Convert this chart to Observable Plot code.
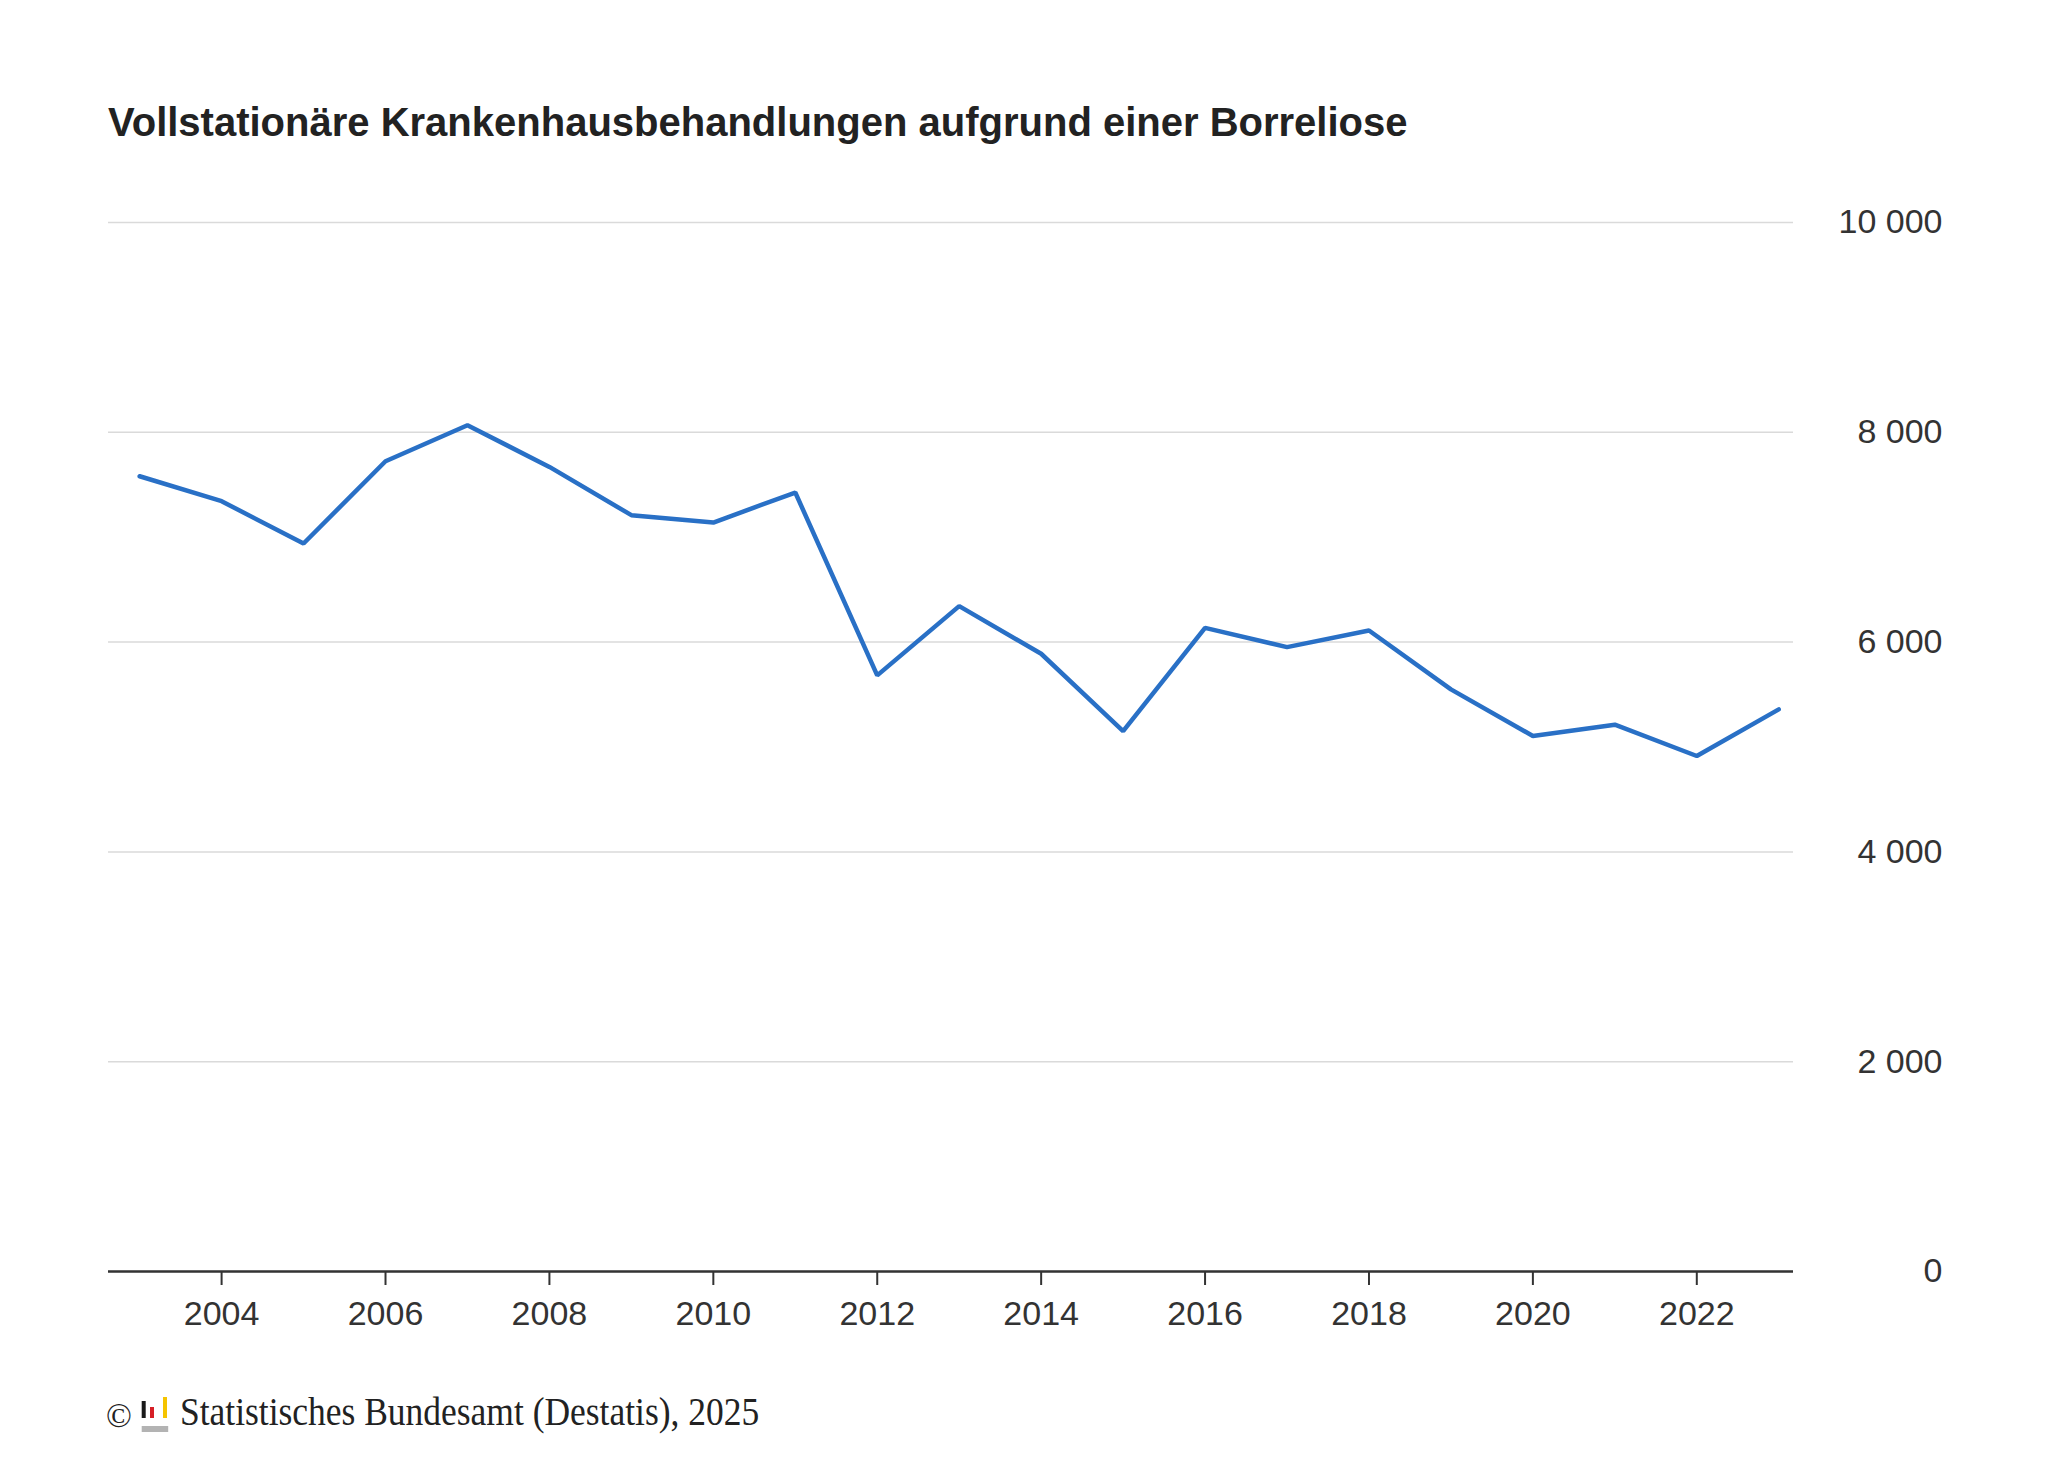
<!DOCTYPE html>
<html>
<head>
<meta charset="utf-8">
<script src="https://cdn.jsdelivr.net/npm/d3@7"></script>
<script src="https://cdn.jsdelivr.net/npm/@observablehq/plot@0.6"></script>
<style>
  html, body { margin: 0; padding: 0; background: #fff; }
  #page { position: relative; width: 2048px; height: 1467px; background: #fff; overflow: hidden; }
  #title { position: absolute; left: 108px; top: 102px; font-family: "Liberation Sans", Arial, sans-serif; font-weight: bold; font-size: 40px; line-height: 40px; color: #222; white-space: nowrap; }
  #chart { position: absolute; left: 0; top: 180px; }
  .foot { position: absolute; font-family: "Liberation Serif", "Times New Roman", serif; color: #222; white-space: nowrap; }
  #copy { left: 106px; top: 1399px; font-size: 34px; line-height: 34px; }
  #src { left: 180px; top: 1391px; font-size: 41px; line-height: 41px; transform: scaleX(0.865); transform-origin: 0 0; }
  #logo { position: absolute; left: 141px; top: 1395px; }
</style>
</head>
<body>
<div id="page">
  <div id="title"></div>
  <div id="chart"></div>
  <div class="foot" id="copy">©</div>
  <svg id="logo" width="28" height="40" viewBox="0 0 28 40">
    <rect x="0.7" y="6" width="4" height="17" fill="#1a1a1a"></rect>
    <rect x="9" y="12" width="4" height="11" fill="#d61f26"></rect>
    <rect x="22" y="2" width="4" height="21" fill="#f5c400"></rect>
    <rect x="0.7" y="31" width="26.5" height="6" fill="#b3b3b3"></rect>
  </svg>
  <div class="foot" id="src"></div>
</div>
<script>
const titleText = "Vollstationäre Krankenhausbehandlungen aufgrund einer Borreliose";
const sourceText = "Statistisches Bundesamt (Destatis), 2025";

const years = [2003, 2004, 2005, 2006, 2007, 2008, 2009, 2010, 2011, 2012, 2013,
               2014, 2015, 2016, 2017, 2018, 2019, 2020, 2021, 2022, 2023];
const cases = [7581, 7343, 6940, 7724, 8067, 7670, 7210, 7140, 7426, 5683, 6343,
               5889, 5152, 6136, 5952, 6111, 5549, 5105, 5213, 4914, 5359];
const xTicks = [2004, 2006, 2008, 2010, 2012, 2014, 2016, 2018, 2020, 2022];
const yTicks = [0, 2000, 4000, 6000, 8000, 10000];

document.getElementById("title").textContent = titleText;
document.getElementById("src").textContent = sourceText;

const data = years.map((y, i) => ({year: y, value: cases[i]}));
const fmtY = d => d3.format(",")(d).replace(/,/g, "\u00a0");

const chart = Plot.plot({
  width: 2048,
  height: 1160,
  marginLeft: 108,
  marginRight: 255,
  marginTop: 42,
  marginBottom: 69,
  x: {domain: [2002.62, 2023.18]},
  y: {domain: [0, 10000]},
  style: {fontFamily: "'Liberation Sans', Arial, sans-serif", fontSize: "34px", color: "#333", background: "white"},
  marks: [
    Plot.gridY(yTicks, {stroke: "#dadada", strokeOpacity: 1, strokeWidth: 1.5}),
    Plot.axisY(yTicks, {anchor: "right", tickSize: 0, tickPadding: 149, textAnchor: "end", tickFormat: fmtY, fill: "#333", label: null}),
    Plot.axisX(xTicks, {anchor: "bottom", tickSize: 14, tickPadding: 15, tickFormat: d => String(d), stroke: "#333", strokeWidth: 2, fill: "#333", label: null}),
    Plot.ruleY([0], {stroke: "#333", strokeWidth: 2.5}),
    Plot.line(data, {x: "year", y: "value", stroke: "#2970c6", strokeWidth: 4.5, strokeLinejoin: "miter"})
  ]
});
document.getElementById("chart").appendChild(chart);
</script>
</body>
</html>
